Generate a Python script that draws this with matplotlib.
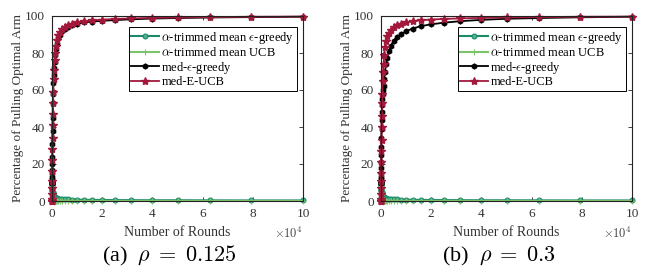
import matplotlib
matplotlib.use("Agg")
import matplotlib.pyplot as plt

plt.rcParams['font.family'] = ['Liberation Serif', 'DejaVu Serif']
plt.rcParams['mathtext.fontset'] = 'cm'

rounds = [10, 13, 16, 20, 25, 32, 40, 50, 63, 79, 100, 126, 158, 200, 251, 316, 398, 501,
          631, 794, 1000, 1259, 1585, 1995, 2512, 3162, 3981, 5012, 6310, 7943, 10000,
          12589, 15849, 19953, 25119, 31623, 39811, 50119, 63096, 79433, 100000]

trim_eps_a = [10, 10, 10, 10, 9.5, 9, 8.5, 8, 7.5, 7, 6.5, 6, 5.5, 5, 4.5, 4, 3.5, 3, 2.7, 2.4,
              2.1, 1.9, 1.7, 1.5, 1.3, 1.2, 1.1, 1.0, 0.9, 0.8, 0.7, 0.65, 0.6, 0.55, 0.5,
              0.45, 0.4, 0.4, 0.35, 0.3, 0.3]
trim_ucb_a = [10, 8, 6, 4, 3, 2, 1.5, 1, 0.8, 0.6, 0.5, 0.4, 0.35, 0.3, 0.25, 0.2, 0.18, 0.15,
              0.13, 0.12, 0.1, 0.1, 0.09, 0.08, 0.08, 0.07, 0.07, 0.06, 0.06, 0.05, 0.05,
              0.05, 0.05, 0.04, 0.04, 0.04, 0.04, 0.03, 0.03, 0.03, 0.03]
med_eps_a = [10, 10, 10, 10, 11, 11, 12, 13, 15, 17, 20, 24, 31, 38, 45, 53, 58, 64, 68, 72,
             75, 79, 82, 85, 88, 90, 91.8, 93.2, 94.3, 95.2, 95.9, 96.5, 97, 97.4, 97.8,
             98.2, 98.6, 98.9, 99.2, 99.4, 99.6]
med_ucb_a = [0, 0, 0, 0, 0, 0, 1, 4, 7, 11, 16, 22, 28, 34, 41, 47, 53, 59, 66, 71, 76, 80,
             84, 87, 89.5, 91.3, 92.8, 94, 95, 95.8, 96.5, 97.1, 97.6, 98, 98.4, 98.7, 99,
             99.2, 99.4, 99.6, 99.7]

trim_eps_b = [10, 10, 10, 10, 9.5, 9, 8.5, 8, 7.5, 7, 6.5, 6, 5.5, 5, 4.5, 4, 3.5, 3, 2.7, 2.4,
              2.1, 1.9, 1.7, 1.5, 1.3, 1.2, 1.1, 1.0, 0.9, 0.8, 0.7, 0.65, 0.6, 0.55, 0.5,
              0.45, 0.4, 0.4, 0.35, 0.3, 0.3]
trim_ucb_b = [10, 8, 6, 4, 3, 2, 1.5, 1, 0.8, 0.6, 0.5, 0.4, 0.35, 0.3, 0.25, 0.2, 0.18, 0.15,
              0.13, 0.12, 0.1, 0.1, 0.09, 0.08, 0.08, 0.07, 0.07, 0.06, 0.06, 0.05, 0.05,
              0.05, 0.05, 0.04, 0.04, 0.04, 0.04, 0.03, 0.03, 0.03, 0.03]
med_eps_b = [10, 10, 10, 10, 11, 12, 13, 15, 18, 21, 25, 29, 34, 39, 44, 48, 52, 55, 58, 60,
             62, 66, 70, 74, 77.5, 81, 84, 86.5, 88.5, 90.3, 91.8, 93.2, 94.5, 95.5, 96.4,
             97.2, 97.9, 98.5, 98.9, 99.3, 99.6]
med_ucb_b = [0, 0, 0, 0, 0, 0, 1, 4, 7, 11, 15, 21, 27, 33, 40, 46, 53, 58, 65, 70, 74, 79,
             83, 86.5, 89, 91, 92.7, 94, 95, 95.9, 96.6, 97.2, 97.7, 98.1, 98.4, 98.7, 99,
             99.2, 99.4, 99.6, 99.7]

labels = [r'$\alpha$-trimmed mean $\epsilon$-greedy', r'$\alpha$-trimmed mean UCB',
          r'med-$\epsilon$-greedy', 'med-E-UCB']
captions = [r'(a)  $\rho\;=\;0.125$', r'(b)  $\rho\;=\;0.3$']
xticks = [0, 20000, 40000, 60000, 80000, 100000]
xticklabels = ['0', '2', '4', '6', '8', '10']
yticks = [0, 20, 40, 60, 80, 100]

c_teal = '#1b8a6b'
c_lgreen = '#7cc46a'
c_red = '#a3193b'

fig = plt.figure(figsize=(6.47, 2.76), dpi=100)
W, H = 647, 276
axes_px = [(52, 16, 303, 201), (381, 16, 632, 201)]
data = [(trim_eps_a, trim_ucb_a, med_eps_a, med_ucb_a),
        (trim_eps_b, trim_ucb_b, med_eps_b, med_ucb_b)]

for i, (x0, y0, x1, y1) in enumerate(axes_px):
    ax = fig.add_axes([x0 / W, 1 - y1 / H, (x1 - x0) / W, (y1 - y0) / H])
    te, tu, me, mu = data[i]
    ax.plot(rounds, te, '-o', color=c_teal, lw=1.5, ms=3.5, mfc='#4fb08c', mec=c_teal,
            mew=0.8, label=labels[0], clip_on=False)
    ax.plot(rounds, tu, '-+', color=c_lgreen, lw=1.5, ms=4, mew=0.8, label=labels[1],
            clip_on=False)
    ax.plot(rounds, me, '-h', color='black', lw=1.3, ms=3.5, label=labels[2], clip_on=False)
    ax.plot(rounds, mu, '-*', color=c_red, lw=1.3, ms=6, label=labels[3], clip_on=False)
    ax.set_xlim(0, 100000)
    ax.set_ylim(0, 100)
    ax.set_xticks(xticks)
    ax.set_xticklabels(xticklabels)
    ax.set_yticks(yticks)
    ax.tick_params(direction='in', top=True, right=True, labelsize=9.5, length=3,
                   width=0.6, pad=5, colors='#222222', labelcolor='#333333')
    for s in ax.spines.values():
        s.set_linewidth(0.8)
        s.set_color('#222222')
    ax.set_xlabel('Number of Rounds', fontsize=10, color='#333333', labelpad=4)
    ax.set_ylabel('Percentage of Pulling Optimal Arm', fontsize=9.5, color='#333333',
                  labelpad=1)
    ax.text(1.0, -0.173, r'$\times10^4$', transform=ax.transAxes, fontsize=9,
            color='#444444', ha='right', va='center')
    leg = ax.legend(loc='upper right', bbox_to_anchor=(0.975, 0.94), fontsize=9,
                    frameon=True, fancybox=False, edgecolor='black', framealpha=1,
                    handlelength=2.2, borderpad=0.2, labelspacing=0.05, handletextpad=0.2,
                    borderaxespad=0)
    leg.get_frame().set_linewidth(0.7)
    fig.text(((x0 + x1) / 2 - 8) / W, 1 - 256 / H, captions[i], fontsize=16,
             ha='center', va='center')

fig.savefig('out.png', dpi=100)
